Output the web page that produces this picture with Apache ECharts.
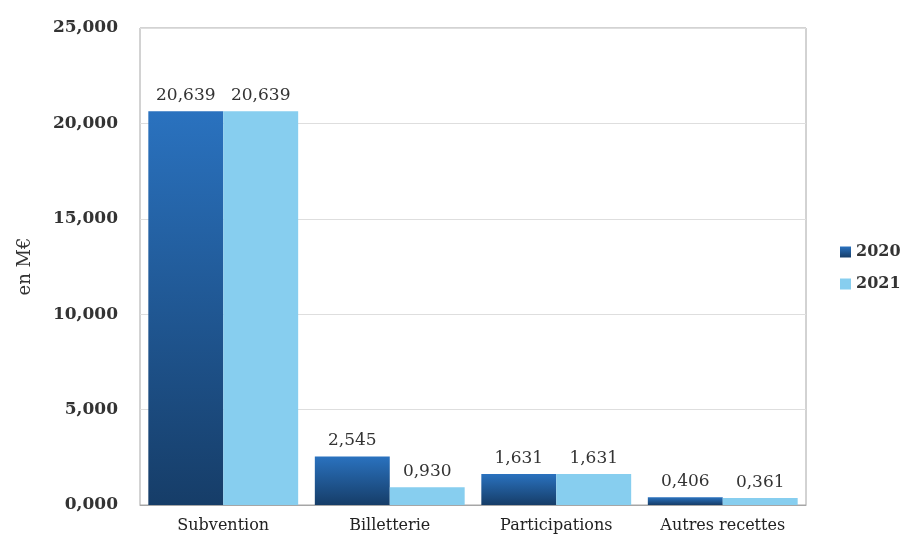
<!DOCTYPE html>
<html>
<head>
<meta charset="utf-8">
<script src="https://cdn.jsdelivr.net/npm/echarts@6/dist/echarts.min.js"></script>
<style>
html,body{margin:0;padding:0;background:#fff;}
#chart{width:904px;height:534px;}
</style>
</head>
<body>
<div id="chart"></div>
<script>
// Recettes par poste, en millions d'euros
const categories = ['Subvention', 'Billetterie', 'Participations', 'Autres recettes'];
const years = ['2020', '2021'];
const values2020 = [20.639, 2.545, 1.631, 0.406];
const values2021 = [20.639, 0.930, 1.631, 0.361];
const yTicks = [0, 5, 10, 15, 20, 25];

const serif = '"DejaVu Serif", "Liberation Serif", serif';
const fmt = v => v.toFixed(3).replace('.', ',');

const valueLabel = {
  show: true, position: 'top', distance: 7,
  fontFamily: serif, fontSize: 17, color: '#333',
  formatter: p => fmt(p.value)
};

const chart = echarts.init(document.getElementById('chart'));
chart.setOption({
  animation: false,
  textStyle: { fontFamily: serif },
  grid: { left: 140, right: 98, top: 28, bottom: 29, show: true, borderColor: '#a6a6a6', borderWidth: 1 },
  legend: {
    orient: 'vertical', left: 835, top: 239,
    itemWidth: 11, itemHeight: 11, itemGap: 16,
    icon: 'rect',
    textStyle: { fontFamily: serif, fontSize: 16, fontWeight: 'bold', color: '#333' },
    data: years
  },
  xAxis: {
    type: 'category', data: categories,
    axisLine: { show: true, lineStyle: { color: '#a6a6a6' } },
    axisTick: { show: false },
    axisLabel: { fontFamily: serif, fontSize: 16, color: '#222', margin: 13 }
  },
  yAxis: {
    type: 'value', min: yTicks[0], max: yTicks[yTicks.length - 1], interval: 5,
    name: 'en M€', nameLocation: 'middle', nameGap: 106, nameRotate: 90,
    nameTextStyle: { fontFamily: serif, fontSize: 18, color: '#333' },
    axisLine: { show: false }, axisTick: { show: false },
    axisLabel: { fontFamily: serif, fontSize: 17, fontWeight: 'bold', color: '#333', margin: 22, formatter: fmt },
    splitLine: { lineStyle: { color: '#dedede' } }
  },
  series: [
    {
      name: years[0], type: 'bar', data: values2020,
      barGap: '0%', barCategoryGap: '10%',
      itemStyle: {
        color: new echarts.graphic.LinearGradient(0, 0, 0, 1, [
          { offset: 0, color: '#2a72bf' },
          { offset: 1, color: '#163d68' }
        ])
      },
      label: valueLabel
    },
    {
      name: years[1], type: 'bar', data: values2021,
      itemStyle: { color: '#87ceef' },
      label: valueLabel
    }
  ]
});
</script>
</body>
</html>
